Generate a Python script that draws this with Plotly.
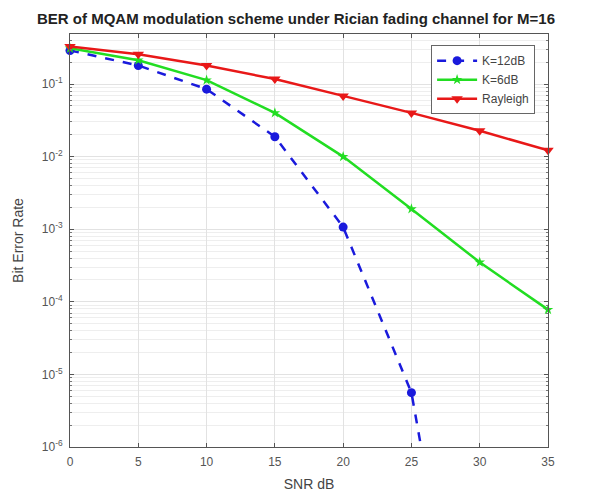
import plotly.graph_objects as go

# SNR points (dB)
snr = [0, 5, 10, 15, 20, 25, 30, 35]
snr_k12 = [0, 5, 10, 15, 20, 25, 30]

# Bit error rates per channel
ber_k12 = [0.29, 0.18, 0.085, 0.0188, 1.07e-3, 5.6e-6, 3e-11]
ber_k6 = [0.31, 0.213, 0.113, 0.040, 0.010, 1.9e-3, 3.5e-4, 7.8e-5]
ber_rayleigh = [0.33, 0.257, 0.18, 0.117, 0.0686, 0.040, 0.0227, 0.0122]

# Axis ticks
x_ticks = [0, 5, 10, 15, 20, 25, 30, 35]
y_exps = [-6, -5, -4, -3, -2, -1]
y_ticks = [10.0 ** e for e in y_exps]
y_ticklabels = ["10<sup>%d</sup>" % e for e in y_exps]
y_minor = [m * 10.0 ** e for e in y_exps for m in range(2, 10)]

FONT = "Liberation Sans, Arial, sans-serif"

fig = go.Figure()

fig.add_trace(go.Scatter(
    x=snr_k12, y=ber_k12, name="K=12dB", mode="lines+markers",
    line=dict(color="#1a1adc", width=2.5, dash="dash"),
    marker=dict(symbol="circle", size=9, color="#1a1adc"),
    cliponaxis=False,
))
fig.add_trace(go.Scatter(
    x=snr, y=ber_k6, name="K=6dB", mode="lines+markers",
    line=dict(color="#22dd22", width=2.5),
    marker=dict(symbol="star", size=8, color="#22dd22"),
    cliponaxis=False,
))
fig.add_trace(go.Scatter(
    x=snr, y=ber_rayleigh, name="Rayleigh", mode="lines+markers",
    line=dict(color="#e81818", width=2.5),
    marker=dict(symbol="triangle-down", size=10, color="#e81818"),
    cliponaxis=False,
))

axis_common = dict(
    showline=True, linecolor="#555555", linewidth=1, mirror="ticks",
    ticks="inside", ticklen=4, tickcolor="#555555",
    showgrid=True, gridcolor="#e2e2e2", gridwidth=1, zeroline=False,
    automargin=False,
    tickfont=dict(family=FONT, size=12, color="#555555"),
)

fig.update_xaxes(
    range=[0, 35], tickvals=x_ticks, ticklabelstandoff=4,
    title=dict(text="SNR dB", standoff=10,
               font=dict(family=FONT, size=14, color="#444444")),
    **axis_common,
)
fig.update_yaxes(
    type="log", range=[-6, -0.311], tickvals=y_ticks, ticktext=y_ticklabels,
    ticklabelstandoff=4,
    minor=dict(tickvals=y_minor, ticks="inside", ticklen=2, tickcolor="#777777",
               showgrid=True, gridcolor="#eeeeee", gridwidth=1),
    title=dict(text="Bit Error Rate", standoff=14,
               font=dict(family=FONT, size=14, color="#444444")),
    **axis_common,
)

fig.update_layout(
    width=592, height=497,
    margin=dict(l=70, r=44, t=34, b=50),
    paper_bgcolor="white", plot_bgcolor="white",
    title=dict(text="<b>BER of MQAM modulation scheme under Rician fading channel for M=16</b>",
               x=0.5, xanchor="center", y=0.963, yanchor="middle",
               font=dict(family=FONT, size=15, color="#222222")),
    legend=dict(x=0.973, y=0.973, xanchor="right", yanchor="top",
                bgcolor="white", bordercolor="#666666", borderwidth=1,
                font=dict(family=FONT, size=12, color="#444444"),
                tracegroupgap=0, itemwidth=40),
    showlegend=True,
)

fig.write_html("out.html")
